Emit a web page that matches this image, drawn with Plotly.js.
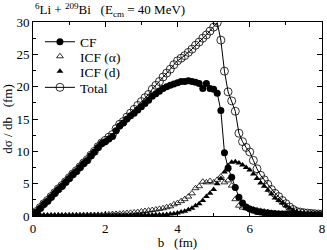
<!DOCTYPE html>
<html><head><meta charset="utf-8">
<script src="https://cdn.plot.ly/plotly-3.0.1.min.js"></script>
<style>html,body{margin:0;padding:0;background:#fff}#g{width:327px;height:250px}</style>
</head><body><div id="g"></div>
<script>
// impact parameter b (fm)
const b = [0.0,0.1,0.2,0.3,0.4,0.5,0.6,0.7,0.8,0.9,1.0,1.1,1.2,1.3,1.4,1.5,1.6,1.7,1.8,1.9,
2.0,2.1,2.2,2.3,2.4,2.5,2.6,2.7,2.8,2.9,3.0,3.1,3.2,3.3,3.4,3.5,3.6,3.7,3.8,3.9,
4.0,4.1,4.2,4.3,4.4,4.5,4.6,4.7,4.8,4.9,5.0,5.1,5.2,5.3,5.4,5.5,5.6,5.7,5.8,5.9,
6.0,6.1,6.2,6.3,6.4,6.5,6.6,6.7,6.8,6.9,7.0,7.1,7.2,7.3,7.4,7.5,7.6,7.7,7.8,7.9,8.0];
const cf = [0.3,0.6,1.2,1.8,2.3,2.9,3.5,4.1,4.6,5.2,5.8,6.4,6.9,7.5,8.1,8.6,9.3,9.9,10.6,11.2,
11.5,11.9,12.3,13.2,13.9,14.4,15.0,15.5,15.9,16.4,16.9,17.4,17.9,18.5,18.9,19.3,19.7,20.0,20.2,20.4,
20.6,20.8,20.8,20.9,20.8,20.7,20.5,19.7,20.5,19.7,19.6,19.0,16.3,9.8,7.4,6.0,4.4,2.9,2.0,1.4,
1.1,0.9,0.7,0.6,0.5,0.45,0.4,0.35,0.3,0.3,0.3,0.25,0.25,0.25,0.2,0.2,0.2,0.2,0.2,0.2,0.2];
const icfAlpha = [0.05,0.05,0.05,0.06,0.06,0.07,0.07,0.08,0.08,0.09,0.1,0.1,0.11,0.12,0.13,0.14,0.15,0.16,0.17,0.18,
0.2,0.25,0.3,0.32,0.35,0.4,0.45,0.5,0.55,0.62,0.7,0.78,0.85,0.92,1.0,1.1,1.2,1.35,1.5,1.8,
2.0,2.3,2.6,3.0,3.5,4.3,4.6,5.3,5.2,5.4,5.2,5.6,6.1,5.2,5.5,4.7,2.6,1.6,1.3,1.2,
1.1,1.0,0.9,0.8,0.7,0.6,0.5,0.45,0.4,0.35,0.3,0.28,0.26,0.24,0.22,0.2,0.19,0.18,0.17,0.16,0.15];
const icfD = [0.1,0.1,0.1,0.1,0.1,0.1,0.1,0.1,0.1,0.1,0.1,0.1,0.1,0.1,0.1,0.1,0.1,0.1,0.1,0.1,
0.12,0.12,0.12,0.12,0.12,0.13,0.13,0.13,0.14,0.14,0.15,0.15,0.16,0.17,0.18,0.19,0.2,0.22,0.3,0.35,
0.45,0.6,0.75,0.95,1.2,1.6,1.9,2.4,3.0,3.5,4.1,5.0,5.8,6.8,7.8,8.3,8.4,8.2,7.9,7.5,
7.1,6.5,5.8,5.1,4.6,4.0,3.4,2.8,2.4,2.0,1.6,1.2,0.9,0.7,0.55,0.45,0.4,0.35,0.3,0.25,0.2];
const total = [0.4,0.7,1.3,1.9,2.4,3.0,3.6,4.2,4.7,5.3,5.9,6.5,7.0,7.6,8.2,8.7,9.4,10.0,10.7,11.3,
11.7,12.2,12.6,13.5,14.2,14.6,15.3,15.9,16.5,17.1,17.7,18.3,18.8,19.6,20.2,20.8,21.5,22.1,22.7,23.4,
24.0,24.4,24.8,25.3,25.8,26.4,26.9,27.5,28.0,28.6,29.2,29.9,27.2,22.4,19.2,17.8,16.2,12.8,11.5,10.6,
9.9,8.6,7.3,6.3,5.6,4.9,4.1,3.5,3.0,2.4,1.9,1.4,1.0,0.7,0.6,0.5,0.45,0.4,0.35,0.3,0.3];

const serif = "Liberation Serif";
const traces = [
  {x:b, y:cf, name:'CF', mode:'lines+markers', line:{color:'#000',width:1}, legend:'legend',
   marker:{symbol:'circle', size:7, color:'#000'}},
  {x:b, y:icfAlpha, name:'ICF (α)', mode:'markers', legend:'legend2',
   marker:{symbol:'triangle-up-open', size:6, color:'#000', line:{width:0.8}}},
  {x:b, y:icfD, name:'ICF (d)', mode:'markers', legend:'legend3',
   marker:{symbol:'triangle-up', size:6, color:'#000'}},
  {x:b, y:total, name:'Total', mode:'lines+markers', line:{color:'#000',width:1}, legend:'legend4',
   marker:{symbol:'circle-open', size:8, color:'#000', line:{width:0.8}}}
];
const axisCommon = {
  showgrid:false, zeroline:false, showline:true, linecolor:'#000', linewidth:1, mirror:'ticks',
  ticks:'inside', ticklen:5, tickwidth:1, tickcolor:'#000',
  tickfont:{family:serif, size:13, color:'#000'}
};
function leg(yc){
  return {x:0.024, y:yc, xanchor:'left', yanchor:'middle', bgcolor:'rgba(0,0,0,0)',
          font:{family:serif, size:13.5, color:'#000'}, itemwidth:30};
}
const layout = {
  width:327, height:250,
  margin:{l:33, r:5, t:22, b:34},
  paper_bgcolor:'#fff', plot_bgcolor:'#fff',
  showlegend:true,
  legend:leg(0.897), legend2:leg(0.822), legend3:leg(0.745), legend4:leg(0.662),
  font:{family:serif, color:'#000'},
  xaxis:Object.assign({}, axisCommon, {range:[0,8], dtick:2, tick0:0,
    minor:{dtick:1, ticks:'inside', ticklen:3, tickcolor:'#000'},
    title:{text:'b\u00a0\u00a0\u00a0(fm)', font:{family:serif, size:13, color:'#000'}, standoff:7}}),
  yaxis:Object.assign({}, axisCommon, {range:[0,30], dtick:5, tick0:0,
    minor:{dtick:2.5, ticks:'inside', ticklen:3, tickcolor:'#000'},
    title:{text:'dσ / db\u00a0\u00a0\u00a0(fm)', font:{family:serif, size:13, color:'#000'}, standoff:7}}),
  annotations:[{xref:'paper', yref:'paper', x:0, y:1, yshift:1, xanchor:'left', yanchor:'bottom', showarrow:false,
    text:'<sup>6</sup>Li + <sup>209</sup>Bi\u00a0\u00a0\u00a0(E<sub>cm</sub> = 40 MeV)',
    font:{family:serif, size:13, color:'#000'}}]
};
Plotly.newPlot('g', traces, layout, {staticPlot:true, displayModeBar:false});
</script></body></html>
